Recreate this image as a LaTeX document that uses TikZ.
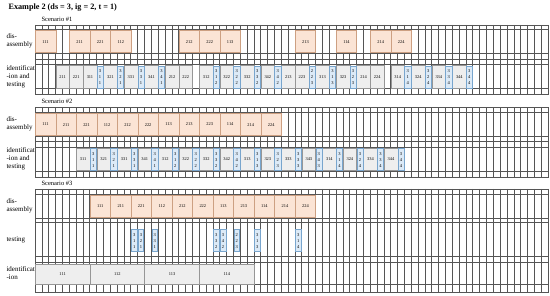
\documentclass[tikz,border=0pt]{standalone}
\usepackage{fontspec}
\setmainfont{Liberation Serif}
\usepackage{tikz}
\definecolor{grelha}{RGB}{85,85,85}
\definecolor{desmfundo}{RGB}{251,228,213}
\definecolor{desmborda}{RGB}{205,160,130}
\definecolor{identfundo}{RGB}{238,238,238}
\definecolor{identborda}{RGB}{150,150,150}
\definecolor{testefundo}{RGB}{220,234,247}
\definecolor{testeborda}{RGB}{120,165,205}

\begin{document}
\begin{tikzpicture}[x=1pt,y=-1pt,
        grade/.style={draw=grelha,line width=0.6pt},
        moldura/.style={draw=grelha,line width=0.9pt},
        rotulo/.style={anchor=west,align=left,font=\fontsize{7}{8}\selectfont},
        cenario/.style={anchor=west,font=\fontsize{6.5}{8}\selectfont},
        caixa/.style={anchor=north west,inner sep=0pt,line width=0.5pt,font=\fontsize{4.4}{5}\selectfont},
        desm/.style={caixa,draw=desmborda,fill=desmfundo,minimum width=20.52pt,minimum height=22pt},
        ident/.style={caixa,draw=identborda,fill=identfundo,minimum width=13.68pt,minimum height=22.5pt},
        identlonga/.style={ident,minimum width=54.72pt,minimum height=20.5pt},
        teste/.style={caixa,anchor=north,align=center,draw=testeborda,fill=testefundo,
                      minimum width=6.2pt,minimum height=22pt,font=\fontsize{4.5}{6}\selectfont}]
      \useasboundingbox (0,0) rectangle (550,296);
      \node[anchor=west,font=\bfseries\fontsize{8.2}{10}\selectfont] (titulo) at (5,8) {Example 2 (ds = 3, ig = 2, t = 1)};
      % rotulos das linhas
      \node[cenario] (c1) at (38,19.5) {Scenario \#1};
      \node[rotulo] (r1a) at (3,41) {dis-\\assembly};
      \node[rotulo] (r1b) at (3,76.5) {identificat\\-ion and\\testing};
      \node[cenario] (c2) at (38,101.5) {Scenario \#2};
      \node[rotulo] (r2a) at (3,124) {dis-\\assembly};
      \node[rotulo] (r2b) at (3,159) {identificat\\-ion and\\testing};
      \node[cenario] (c3) at (38,183.5) {Scenario \#3};
      \node[rotulo] (r3a) at (3,206) {dis-\\assembly};
      \node[rotulo] (r3b) at (3,240) {testing};
      \node[rotulo] (r3c) at (3,273.5) {identificat\\-ion};
      \begin{scope}[shift={(35pt,0pt)},x=6.84pt]
        % grelhas
        \foreach \i in {0,...,75} {
          \draw[grade] (\i,25) -- (\i,94);
          \draw[grade] (\i,107.5) -- (\i,177);
          \draw[grade] (\i,189) -- (\i,292.3);}
        \foreach \y in {29.8,53.3,59,64.8,88.5,112.7,136,141.7,147,171.5,194.3,218.3,222.5,256.7,262.3,284.3}
          \draw[grade] (0,\y) -- (75,\y);
        \draw[moldura] (0,25) rectangle (75,94);
        \draw[moldura] (0,107.5) rectangle (75,177);
        \draw[moldura] (0,189) rectangle (75,292.3);
        % cenario 1
        \foreach \t/\n in {0/111,5/211,8/221,11/112,21/212,24/222,27/113,38/213,44/114,49/214,52/224}
          \node[desm] (d1-\n) at (\t,30.5) {\n};
        \foreach \t/\n in {3/211,5/221,7/311,10/321,13/331,16/341,19/212,21/222,24/312,27/322,30/332,33/342,
                           36/213,38/223,41/313,44/323,47/214,49/224,52/314,55/324,58/334,61/344}
          \node[ident] (i1-\n) at (\t,65.5) {\n};
        \foreach \t/\a/\b/\c in {9/3/1/1,12/3/2/1,15/3/3/1,18/3/4/1,26/3/1/2,29/3/2/2,32/3/3/2,35/3/4/2,
                                 40/2/2/3,43/3/1/3,46/3/2/3,54/3/1/4,57/3/2/4,60/3/3/4,63/3/4/4}
          \node[teste] (t1-\a\b\c) at (\t+0.5,65.8) {\a\\\b\\\c};
        % cenario 2
        \foreach \t/\n in {0/111,3/211,6/221,9/112,12/212,15/222,18/113,21/213,24/223,27/114,30/214,33/224}
          \node[desm] (d2-\n) at (\t,113.3) {\n};
        \foreach \t/\n in {6/311,9/321,12/331,15/341,18/312,21/322,24/332,27/342,
                           30/313,33/323,36/333,39/343,42/314,45/324,48/334,51/344}
          \node[ident] (i2-\n) at (\t,148) {\n};
        \foreach \t/\a/\b/\c in {8/3/1/1,11/3/2/1,14/3/3/1,17/3/4/1,20/3/1/2,23/3/2/2,26/3/3/2,29/3/4/2,
                                 32/3/1/3,35/3/2/3,38/3/3/3,41/3/4/3,44/3/1/4,47/3/2/4,50/3/3/4,53/3/4/4}
          \node[teste] (t2-\a\b\c) at (\t+0.5,148.3) {\a\\\b\\\c};
        % cenario 3
        \foreach \t/\n in {8/111,11/211,14/221,17/112,20/212,23/222,26/113,29/213,32/114,35/214,38/224}
          \node[desm] (d3-\n) at (\t,195) {\n};
        \foreach \t/\a/\b/\c in {14/3/1/1,15/3/2/1,17/3/3/1,26/3/3/2,27/3/4/2,29/2/2/3,32/3/1/3,38/3/1/4}
          \node[teste,minimum width=5.4pt] (t3-\a\b\c) at (\t+0.5,229.5) {\a\\\b\\\c};
        \foreach \t/\n in {0/111,8/112,16/113,24/114}
          \node[identlonga] (i3-\n) at (\t,263.8) {\n};
      \end{scope}
    \end{tikzpicture}
\end{document}
